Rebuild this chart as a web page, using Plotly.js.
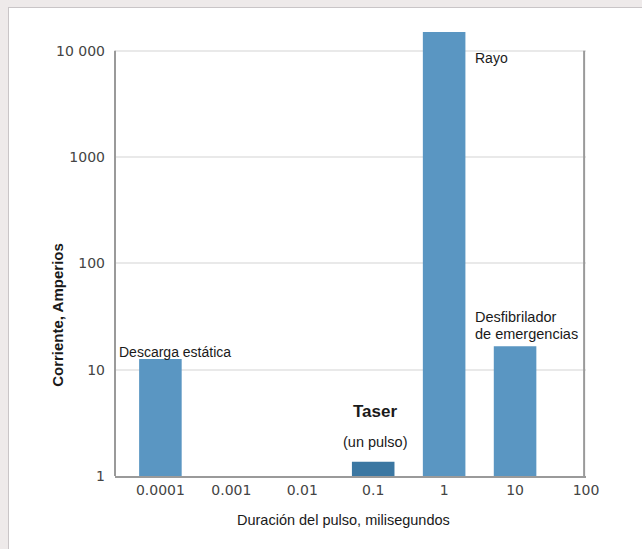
<!DOCTYPE html>
<html>
<head>
<meta charset="utf-8">
<script src="https://cdn.plot.ly/plotly-3.0.1.min.js"></script>
<style>
html,body{margin:0;padding:0;background:#eeeaea;width:642px;height:549px;overflow:hidden;}
#card{position:absolute;left:8px;top:7px;width:640px;height:560px;background:#fff;border:1px solid #c9c5c7;}
#chart{position:absolute;left:0;top:0;width:642px;height:549px;}
</style>
</head>
<body>
<div id="card"></div>
<div id="chart"></div>
<script>
// Data
const categories = ["0.0001", "0.001", "0.01", "0.1", "1", "10", "100"];
const barCats = ["0.0001", "0.1", "1", "10"];
const barValues = [12.6, 1.36, 15000, 16.6];
const barLabels = ["Descarga estática", "Taser", "Rayo", "Desfibrilador", "de emergencias"];
const yTickVals = [1, 10, 100, 1000, 10000];
const yTickText = ["1", "10", "100", "1000", "10 000"];

const blue = "#5a96c2";
const darkBlue = "#3b77a2";
const idx = c => categories.indexOf(c);

const trace = {
  type: "bar",
  x: barCats.map(idx),
  y: barValues,
  width: 0.6,
  marker: {color: barCats.map(c => c === "0.1" ? darkBlue : blue), line: {width: 0}},
  hoverinfo: "skip"
};

const font = "Liberation Sans, Arial, sans-serif";
const tickFont = "DejaVu Sans, Verdana, sans-serif";
const lg = Math.log10;
const ann = (o) => Object.assign({showarrow: false, font: {family: font, size: 14, color: "#1a1a1a"}}, o);

const annotations = [
  ann({x: idx("0.0001"), y: lg(barValues[0]), xanchor: "left", yanchor: "middle", xshift: -43, yshift: 7,
   text: barLabels[0]}),
  ann({x: idx("0.1"), y: lg(barValues[1]), xanchor: "center", yanchor: "middle", yshift: 50, xshift: 2,
   text: "<b>" + barLabels[1] + "</b>", font: {family: font, size: 17, color: "#1a1a1a"}}),
  ann({x: idx("0.1"), y: lg(barValues[1]), xanchor: "center", yanchor: "middle", yshift: 20, xshift: 2,
   text: "(un pulso)", font: {family: font, size: 14.5, color: "#1a1a1a"}}),
  ann({x: idx("1"), y: lg(10000), xanchor: "left", yanchor: "middle", xshift: 29, yshift: -7,
   text: barLabels[2]}),
  ann({x: idx("10"), y: lg(barValues[3]), xanchor: "left", yanchor: "middle", xshift: -42, yshift: 29,
   text: barLabels[3], font: {family: font, size: 14.5, color: "#1a1a1a"}}),
  ann({x: idx("10"), y: lg(barValues[3]), xanchor: "left", yanchor: "middle", xshift: -42, yshift: 12,
   text: barLabels[4], font: {family: font, size: 14.5, color: "#1a1a1a"}}),
  ann({xref: "paper", yref: "paper", x: -0.121, y: 0.363, xanchor: "center", yanchor: "middle", textangle: -90,
   text: "<b>Corriente, Amperios</b>", font: {family: font, size: 15, color: "#1a1a1a"}}),
  ann({xref: "paper", yref: "paper", x: 0.486, y: -0.099, xanchor: "center", yanchor: "middle",
   text: "Duración del pulso, milisegundos", font: {family: font, size: 14.5, color: "#1a1a1a"}})
];

const shapes = [
  {type: "line", xref: "paper", x0: 0, x1: 0, yref: "y", y0: 1, y1: 10000, line: {color: "#9a9a9a", width: 2}},
  {type: "line", xref: "paper", x0: 0.996, x1: 0.996, yref: "y", y0: 1, y1: 10000, line: {color: "#9a9a9a", width: 2}}
];

const layout = {
  width: 642, height: 549,
  margin: {l: 115, r: 56, t: 32, b: 73},
  paper_bgcolor: "rgba(0,0,0,0)",
  plot_bgcolor: "rgba(0,0,0,0)",
  showlegend: false,
  xaxis: {
    type: "linear",
    range: [-0.64, 6.0],
    tickvals: categories.map((c, i) => i),
    ticktext: categories,
    showgrid: false, zeroline: false,
    showline: true, linecolor: "#9a9a9a", linewidth: 2,
    ticks: "",
    tickfont: {family: tickFont, size: 14, color: "#444"},
    fixedrange: true
  },
  yaxis: {
    type: "log",
    range: [0, lg(15000)],
    tickvals: yTickVals, ticktext: yTickText,
    showgrid: true, gridcolor: "#e9e9e9", gridwidth: 2,
    zeroline: false, showline: false,
    ticks: "", ticklabelstandoff: 9,
    tickfont: {family: tickFont, size: 14, color: "#444"},
    fixedrange: true
  },
  annotations: annotations,
  shapes: shapes
};

Plotly.newPlot("chart", [trace], layout, {displayModeBar: false, staticPlot: true});
</script>
</body>
</html>
